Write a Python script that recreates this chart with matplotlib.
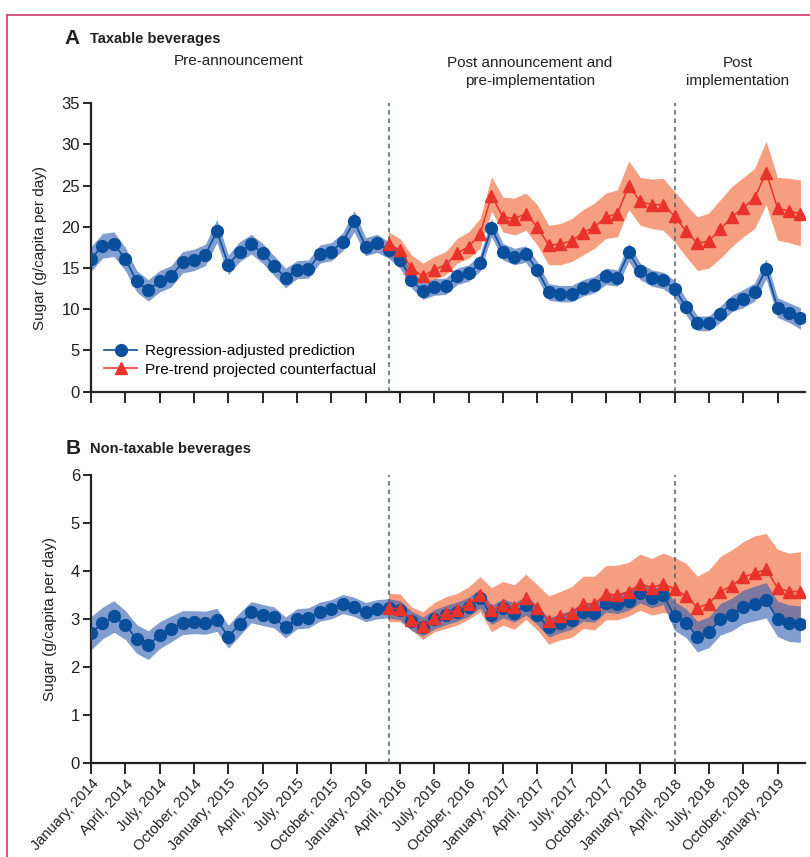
import numpy as np
import matplotlib
matplotlib.use('Agg')
import matplotlib.pyplot as plt
from matplotlib.lines import Line2D

plt.rcParams['font.family'] = ['Liberation Sans', 'DejaVu Sans']

# months since January 2014 (0 = Jan 2014, 62 = Mar 2019)
months = np.arange(63)
cf_months = np.arange(26, 63)
tick_pos = np.arange(0, 61, 3)
tick_labels = []
for yr in range(2014, 2020):
    for m in ['January', 'April', 'July', 'October']:
        tick_labels.append(f'{m}, {yr}')
tick_labels = tick_labels[:len(tick_pos)]

announce_month = 26      # March 2016
implement_month = 51     # April 2018

# ---- Panel A: taxable beverages ----
blue_a = [16.1, 17.7, 17.9, 16.1, 13.4, 12.3, 13.4, 14.0, 15.7, 16.0, 16.6, 19.5, 15.4,
          17.0, 17.9, 16.8, 15.3, 13.8, 14.8, 14.9, 16.7, 17.0, 18.2, 20.7, 17.6, 18.0,
          17.2, 16.0, 13.6, 12.2, 12.7, 12.8, 14.0, 14.4, 15.6, 19.9, 17.0, 16.4, 16.7,
          14.8, 12.1, 11.9, 11.9, 12.6, 13.0, 14.0, 13.8, 16.9, 14.6, 13.8, 13.5, 12.5,
          10.3, 8.3, 8.3, 9.4, 10.7, 11.3, 12.1, 14.9, 10.2, 9.6, 8.9]
blue_a_err = [1.5, 1.5, 1.5, 1.4, 1.3, 1.3, 1.3, 1.3, 1.3, 1.3, 1.3, 1.4, 1.2, 1.2, 1.2,
              1.2, 1.2, 1.2, 1.1, 1.1, 1.1, 1.1, 1.1, 1.3, 1.1, 1.1,
              1.0, 1.0, 1.0, 1.0, 1.0, 1.0, 1.0, 1.0, 1.0, 1.1, 1.0, 1.0, 1.0, 1.0, 1.0,
              1.0, 1.0, 1.0, 1.0, 1.0, 1.0, 1.1, 1.0, 1.0, 1.0,
              1.0, 1.0, 0.9, 0.9, 1.0, 1.0, 1.1, 1.1, 1.2, 1.2, 1.2, 1.3]
red_a = [17.9, 17.2, 15.0, 14.0, 14.8, 15.4, 16.8, 17.6, 19.1, 23.8, 21.2, 21.0, 21.6,
         20.0, 17.8, 17.9, 18.3, 19.3, 20.0, 21.2, 21.6, 25.0, 23.1, 22.7, 22.7, 21.3,
         19.5, 18.0, 18.3, 19.7, 21.2, 22.3, 23.5, 26.6, 22.3, 21.9, 21.6]
red_a_lo = [16.4, 15.6, 14.2, 13.2, 13.6, 14.2, 15.6, 16.2, 17.4, 21.9, 19.4, 19.0, 19.6,
            17.8, 15.4, 15.4, 15.8, 16.6, 17.4, 18.6, 18.8, 22.1, 20.2, 19.8, 19.6, 18.2,
            16.4, 14.7, 15.0, 16.2, 17.6, 18.8, 19.8, 22.7, 18.4, 18.1, 17.7]
red_a_hi = [19.4, 18.6, 16.6, 15.6, 16.4, 17.0, 18.6, 19.4, 21.0, 26.1, 23.6, 23.5, 24.1,
            22.7, 20.2, 20.4, 21.0, 22.1, 22.9, 24.1, 24.5, 28.0, 26.0, 25.8, 25.9, 24.3,
            22.7, 21.2, 21.7, 23.3, 24.9, 26.0, 27.1, 30.4, 26.0, 25.9, 25.7]

# ---- Panel B: non-taxable beverages ----
blue_b = [2.70, 2.91, 3.05, 2.87, 2.58, 2.45, 2.66, 2.79, 2.92, 2.93, 2.92, 2.98, 2.63,
          2.89, 3.14, 3.08, 3.03, 2.82, 3.00, 3.02, 3.15, 3.20, 3.31, 3.25, 3.14, 3.20,
          3.22, 3.18, 2.96, 2.84, 2.99, 3.08, 3.15, 3.25, 3.43, 3.08, 3.22, 3.13, 3.28,
          3.08, 2.82, 2.91, 2.98, 3.15, 3.13, 3.34, 3.31, 3.38, 3.53, 3.43, 3.50, 3.06,
          2.91, 2.63, 2.72, 2.99, 3.09, 3.25, 3.32, 3.39, 3.00, 2.91, 2.89]
blue_b_err = [0.35, 0.33, 0.33, 0.30, 0.30, 0.30, 0.28, 0.27, 0.25, 0.24, 0.24, 0.24, 0.24,
              0.24, 0.22, 0.22, 0.22, 0.22, 0.21, 0.21, 0.20, 0.20, 0.20, 0.20, 0.20, 0.20,
              0.20, 0.20, 0.20, 0.20, 0.20, 0.20, 0.20, 0.20, 0.20, 0.20, 0.20, 0.20, 0.20,
              0.20, 0.20, 0.20, 0.20, 0.20, 0.20, 0.20, 0.20, 0.20, 0.20, 0.20, 0.20,
              0.30, 0.30, 0.32, 0.32, 0.33, 0.34, 0.35, 0.36, 0.37, 0.37, 0.38, 0.38]
red_b = [3.22, 3.21, 2.98, 2.86, 3.01, 3.12, 3.18, 3.31, 3.50, 3.18, 3.29, 3.24, 3.43,
         3.23, 2.96, 3.05, 3.12, 3.32, 3.31, 3.52, 3.50, 3.57, 3.73, 3.65, 3.73, 3.62,
         3.48, 3.23, 3.32, 3.57, 3.69, 3.87, 3.95, 4.03, 3.65, 3.57, 3.57]
red_b_lo = [2.94, 2.94, 2.77, 2.57, 2.73, 2.80, 2.87, 2.99, 3.15, 2.73, 2.87, 2.78, 2.99,
            2.77, 2.47, 2.56, 2.61, 2.80, 2.77, 2.98, 2.98, 3.06, 3.18, 3.08, 3.13, 3.10,
            2.92, 2.68, 2.76, 2.98, 3.08, 3.22, 3.30, 3.36, 3.05, 2.98, 3.00]
red_b_hi = [3.53, 3.52, 3.25, 3.15, 3.34, 3.46, 3.53, 3.67, 3.88, 3.65, 3.78, 3.71, 3.93,
            3.71, 3.48, 3.57, 3.67, 3.89, 3.89, 4.11, 4.12, 4.18, 4.35, 4.26, 4.37, 4.28,
            4.16, 3.89, 4.02, 4.30, 4.44, 4.61, 4.73, 4.78, 4.45, 4.37, 4.40]

BLUE = '#0a4f9c'
BLUE_BAND = '#3562b2'
RED = '#e8322b'
RED_BAND = '#f59e80'
DASH = '#4a6272'
TXT = '#231f20'

W, H = 810, 857
fig = plt.figure(figsize=(W / 100, H / 100), dpi=100)

def fx(px):
    return px / W

def fy(py):
    return 1 - py / H

ax_a = fig.add_axes([fx(91), fy(391.7), fx(805 - 91), (391.7 - 103.3) / H])
ax_b = fig.add_axes([fx(91), fy(762.7), fx(805 - 91), (762.7 - 475) / H])


def draw_panel(ax, blue, blue_err, red, red_lo, red_hi, ymax, yticks):
    blue = np.array(blue)
    err = np.array(blue_err)
    ax.fill_between(cf_months, red_lo, red_hi, color=RED_BAND, lw=0, zorder=1)
    ax.fill_between(months, blue - err, blue + err, color=BLUE_BAND, alpha=0.62, lw=0, zorder=2)
    ax.plot(months, blue, color=BLUE, lw=1.2, marker='o', ms=8.5, mec=BLUE, zorder=4,
            label='Regression-adjusted prediction')
    ax.plot(cf_months, red, color=RED, lw=1.1, marker='^', ms=9, mec=RED, zorder=5,
            label='Pre-trend projected counterfactual')
    for xm in (announce_month, implement_month):
        ax.axvline(xm, color=DASH, lw=1.1, ls=(0, (3, 2.5)), zorder=3)
    ax.set_xlim(0, 62.4)
    ax.set_ylim(0, ymax)
    ax.set_yticks(yticks)
    ax.set_xticks(tick_pos)
    for s in ('top', 'right'):
        ax.spines[s].set_visible(False)
    for s in ('left', 'bottom'):
        ax.spines[s].set_linewidth(1.6)
        ax.spines[s].set_color('#222222')
    ax.tick_params(axis='y', direction='out', length=6, width=1.2, labelsize=12,
                   labelcolor=TXT, pad=2)
    ax.tick_params(axis='x', direction='out', length=8, width=1.2, labelsize=10.5,
                   labelcolor=TXT, pad=2)
    ax.set_ylabel('Sugar (g/capita per day)', fontsize=11, color=TXT, labelpad=10)


draw_panel(ax_a, blue_a, blue_a_err, red_a, red_a_lo, red_a_hi, 35, range(0, 36, 5))
ax_a.set_xticklabels([])
ax_a.legend(loc='lower left', bbox_to_anchor=(0.005, 0.02), frameon=False, fontsize=11,
            handlelength=2.2, handletextpad=0.5, labelspacing=0.3, borderaxespad=0.2)

draw_panel(ax_b, blue_b, blue_b_err, red_b, red_b_lo, red_b_hi, 6, range(0, 7))
ax_b.set_xticklabels(tick_labels, rotation=47, ha='right', rotation_mode='anchor')

# panel titles
fig.text(fx(64), fy(38), 'A', fontsize=15, fontweight='bold', color=TXT, va='center')
fig.text(fx(90), fy(39), 'Taxable beverages', fontsize=10.5, fontweight='bold', color=TXT, va='center')
fig.text(fx(66), fy(448), 'B', fontsize=15, fontweight='bold', color=TXT, va='center')
fig.text(fx(90), fy(449), 'Non-taxable beverages', fontsize=10.5, fontweight='bold', color=TXT, va='center')

# period labels
fig.text(fx(239), fy(61), 'Pre-announcement', fontsize=11, color=TXT, ha='center', va='center')
fig.text(fx(530), fy(72), 'Post announcement and\npre-implementation', fontsize=11, color=TXT,
         ha='center', va='center', linespacing=1.35)
fig.text(fx(738), fy(72), 'Post\nimplementation', fontsize=11, color=TXT,
         ha='center', va='center', linespacing=1.35)

# page frame
fig.add_artist(Line2D([fx(7), fx(7)], [0, fy(15)], color='#d03a6e', lw=1.2))
fig.add_artist(Line2D([fx(7), 1], [fy(15), fy(15)], color='#d03a6e', lw=1.2))

fig.savefig('out.png', dpi=100, facecolor='white')
